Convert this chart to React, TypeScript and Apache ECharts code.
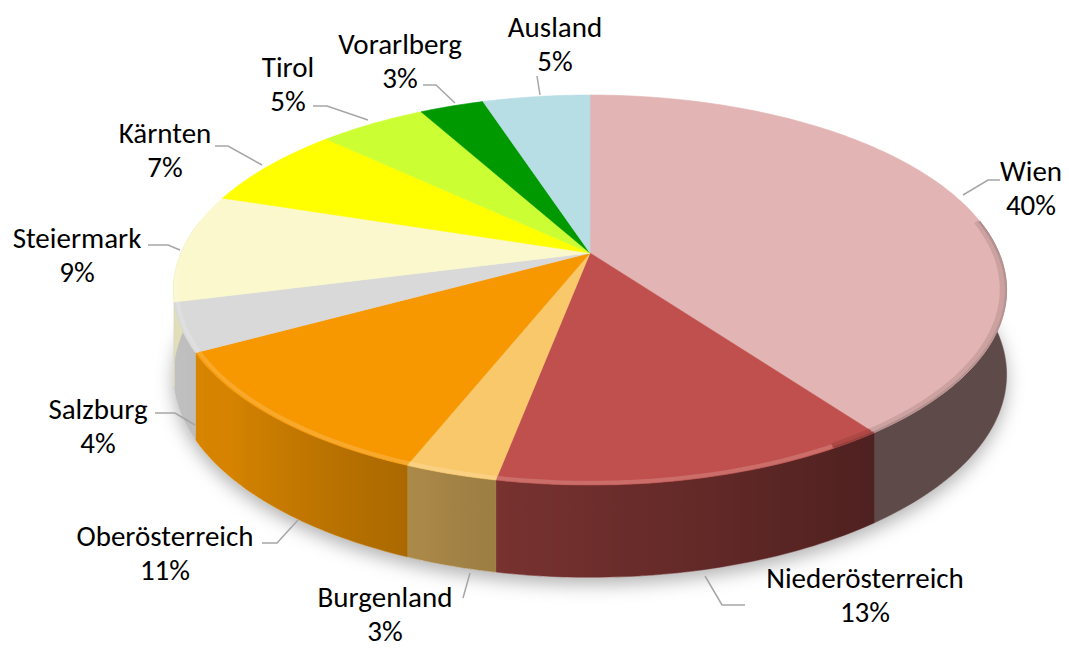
import React, { useEffect, useRef } from 'react';
import * as echarts from 'echarts';

// ---- data ----
const categories = ['Wien', 'Niederösterreich', 'Burgenland', 'Oberösterreich', 'Salzburg', 'Steiermark', 'Kärnten', 'Tirol', 'Vorarlberg', 'Ausland'];
const shares = [40, 13, 3, 11, 4, 9, 7, 5, 3, 5];

// ---- styles / layout ----
const sliceColors = ['#E2B4B3', '#C0504D', '#F9C86A', '#F79800', '#D9D9D9', '#FAF8CC', '#FFFF00', '#CCFF33', '#009900', '#B7DDE5'];
const labelCenters = [[1031, 188], [865, 595], [385, 614], [165, 553], [98, 426], [77, 255], [165, 150], [288, 84], [400, 61], [555, 44]];
const leaderPaths = [
  [[963, 195], [988, 180], [1000, 180]],
  [[705, 576], [722, 605], [745, 605]],
  [[470, 573], [463, 598], [463, 598]],
  [[298, 520], [277, 543], [262, 543]],
  [[195, 425], [175, 413], [155, 413]],
  [[180, 250], [168, 245], [148, 245]],
  [[262, 165], [228, 146], [215, 146]],
  [[368, 120], [327, 106], [313, 106]],
  [[455, 103], [436, 85], [423, 85]],
  [[540, 95], [537, 76], [537, 76]],
];

const CX = 590, CY = 253, RA = 409, RB = 188, PERSP = 0.19, THICK = 83;
const DEG = Math.PI / 180;

function proj(theta: number, h: number, r = 1): number[] {
  const u = Math.sin(theta) * r, v = Math.cos(theta) * r;
  const s = 1 / (1 + PERSP * v);
  return [CX + RA * u * s, CY - RB * v * s + h * THICK * Math.sqrt(s)];
}

const shadeStops = [[80, 0.41], [145, 0.41], [190, 0.62], [230, 0.86], [265, 0.9], [280, 0.9]];
function shade(deg: number): number {
  if (deg <= shadeStops[0][0]) return shadeStops[0][1];
  for (let k = 1; k < shadeStops.length; k++) {
    if (deg <= shadeStops[k][0]) {
      const [d0, f0] = shadeStops[k - 1];
      const [d1, f1] = shadeStops[k];
      return f0 + ((deg - d0) / (d1 - d0)) * (f1 - f0);
    }
  }
  return shadeStops[shadeStops.length - 1][1];
}
function hexRgb(h: string): number[] {
  const n = parseInt(h.slice(1), 16);
  return [(n >> 16) & 255, (n >> 8) & 255, n & 255];
}
function mul(h: string, f: number): string {
  const [r, g, b] = hexRgb(h);
  return `rgb(${Math.round(r * f)},${Math.round(g * f)},${Math.round(b * f)})`;
}
function lighten(h: string, t: number): string {
  const [r, g, b] = hexRgb(h);
  return `rgb(${Math.round(r + (255 - r) * t)},${Math.round(g + (255 - g) * t)},${Math.round(b + (255 - b) * t)})`;
}

export default function App() {
  const ref = useRef<HTMLDivElement>(null);
  useEffect(() => {
    if (!ref.current) return;
    const chart = echarts.init(ref.current, undefined, { renderer: 'svg' });
    const total = shares.reduce((a, b) => a + b, 0);
    const starts: number[] = [];
    let acc = 0;
    shares.forEach((v) => { starts.push(acc); acc += v; });

    const arc = (t0: number, t1: number, h: number, r = 1): number[][] => {
      const m = Math.max(2, Math.ceil((t1 - t0) / DEG));
      const out: number[][] = [];
      for (let k = 0; k <= m; k++) out.push(proj(t0 + ((t1 - t0) * k) / m, h, r));
      return out;
    };

    const renderItem = (params: any, api: any) => {
      const i = params.dataIndex;
      const v = api.value(0);
      const a0 = (starts[i] / total) * 2 * Math.PI;
      const a1 = a0 + (v / total) * 2 * Math.PI;
      const color = sliceColors[i];
      const children: any[] = [];

      if (i === 0) {
        children.push({
          type: 'polygon', shape: { points: arc(0, 2 * Math.PI, 1) }, z2: -5,
          style: { fill: '#ffffff', shadowBlur: 18, shadowColor: 'rgba(0,0,0,0.3)', shadowOffsetY: 7 },
        });
      }

      // top face
      const pts: number[][] = [[CX, CY]].concat(arc(a0, a1, 0));
      children.push({ type: 'polygon', shape: { points: pts }, z2: 10, style: { fill: color, stroke: color, lineWidth: 0.6 } });

      // side wall with horizontal lighting gradient
      const lo = Math.max(a0, 80 * DEG), hi = Math.min(a1, 280 * DEG);
      if (hi > lo) {
        const topArc = arc(lo, hi, 0);
        const botArc = arc(lo, hi, 1);
        const m = topArc.length - 1;
        const samples = topArc.map((p, k) => ({ x: p[0], c: mul(color, shade((lo + ((hi - lo) * k) / m) / DEG)) }));
        const xs = samples.map((s) => s.x);
        const xl = Math.min(...xs) - 4, xr = Math.max(...xs) + 4;
        const stops = samples
          .map((s) => ({ offset: Math.min(1, Math.max(0, (s.x - xl) / (xr - xl))), color: s.c }))
          .sort((p, q) => p.offset - q.offset);
        const grad = { type: 'linear', x: xl, y: 0, x2: xr, y2: 0, global: true, colorStops: stops };
        children.push({
          type: 'polygon', z2: 1,
          shape: { points: topArc.concat(botArc.reverse()) },
          style: { fill: grad, stroke: grad, lineWidth: 0.6 },
        });
      }

      // bevel on the front rim: lit on the left, shaded on the right
      const hlo = Math.max(a0, 150 * DEG), hhi = Math.min(a1, 265 * DEG);
      if (hhi > hlo) {
        children.push({ type: 'polyline', z2: 11, shape: { points: arc(hlo, hhi, 0, 0.992) }, style: { stroke: lighten(color, 0.3), lineWidth: 4, opacity: 0.55, fill: null } });
      }
      const dlo = Math.max(a0, 80 * DEG), dhi = Math.min(a1, 150 * DEG);
      if (dhi > dlo) {
        children.push({ type: 'polyline', z2: 11, shape: { points: arc(dlo, dhi, 0, 0.99) }, style: { stroke: mul(color, 0.72), lineWidth: 5, opacity: 0.35, fill: null } });
        children.push({ type: 'polyline', z2: 11, shape: { points: arc(dlo, dhi, 0, 0.998) }, style: { stroke: mul(color, 0.6), lineWidth: 2, opacity: 0.45, fill: null } });
      }

      // leader line
      children.push({
        type: 'polyline', z2: 20,
        shape: { points: leaderPaths[i] },
        style: { stroke: '#A6A6A6', lineWidth: 1.5, fill: null },
      });

      // label
      const pct = Math.round((v / total) * 100);
      children.push({
        type: 'text', z2: 21,
        style: {
          text: `${categories[i]}\n${pct}%`,
          x: labelCenters[i][0], y: labelCenters[i][1],
          align: 'center', verticalAlign: 'middle',
          fontFamily: 'Carlito, Calibri, Lato, sans-serif', fontSize: 29, lineHeight: 34,
          fill: '#000000',
        },
      });

      return { type: 'group', children };
    };

    chart.setOption({
      animation: false,
      series: [
        {
          type: 'custom',
          coordinateSystem: 'none',
          silent: true,
          data: shares.map((v, i) => ({ value: [v], name: categories[i] })),
          renderItem,
        },
      ],
    });
    return () => chart.dispose();
  }, []);
  return <div ref={ref} style={{ position: 'absolute', left: 0, top: 0, width: 1069, height: 651 }} />;
}
